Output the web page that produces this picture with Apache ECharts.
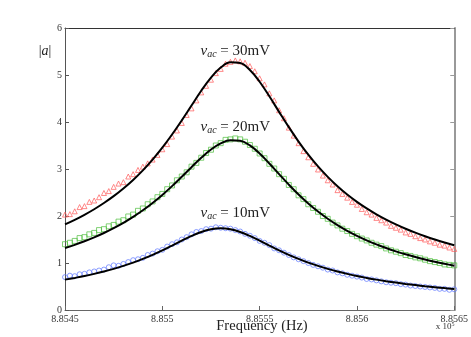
<!DOCTYPE html>
<html>
<head>
<meta charset="utf-8">
<script src="https://cdn.jsdelivr.net/npm/echarts@6/dist/echarts.min.js"></script>
<style>html,body{margin:0;padding:0;background:#fff}#c{width:471px;height:337px}</style>
</head>
<body>
<div id="c"></div>
<script>
// Frequency (Hz) sample points for the measured data
var freqData = [885450,885452.5,885455,885457.5,885460,885462.5,885465,885467.5,885470,885472.5,885475,885477.5,885480,885482.5,885485,885487.5,885490,885492.5,885495,885497.5,885500,885502.5,885505,885507.5,885510,885512.5,885515,885517.5,885520,885522.5,885525,885527.5,885530,885532.5,885535,885537.5,885540,885542.5,885545,885547.5,885550,885552.5,885555,885557.5,885560,885562.5,885565,885567.5,885570,885572.5,885575,885577.5,885580,885582.5,885585,885587.5,885590,885592.5,885595,885597.5,885600,885602.5,885605,885607.5,885610,885612.5,885615,885617.5,885620,885622.5,885625,885627.5,885630,885632.5,885635,885637.5,885640,885642.5,885645,885647.5,885650];
// Frequency (Hz) sample points for the fitted curves
var freqFit = [885450,885455,885460,885465,885470,885475,885480,885485,885490,885495,885500,885505,885510,885515,885520,885525,885530,885535,885540,885545,885550,885555,885560,885565,885570,885575,885580,885585,885590,885595,885600,885605,885610,885615,885620,885625,885630,885635,885640,885645,885650];

// measured |a|, v_ac = 30 mV (red triangles)
var data30 = [2.03,2.04,2.10,2.19,2.21,2.30,2.33,2.40,2.49,2.53,2.62,2.69,2.72,2.84,2.89,2.98,3.05,3.12,3.20,3.30,3.42,3.53,3.69,3.82,3.98,4.15,4.29,4.46,4.63,4.77,4.90,5.04,5.13,5.24,5.28,5.31,5.29,5.26,5.19,5.08,4.93,4.80,4.61,4.46,4.25,4.08,3.88,3.71,3.55,3.38,3.25,3.11,2.99,2.86,2.76,2.67,2.55,2.47,2.39,2.30,2.24,2.15,2.08,2.03,1.96,1.91,1.86,1.79,1.75,1.71,1.65,1.62,1.57,1.53,1.50,1.46,1.43,1.39,1.37,1.33,1.30];
// measured |a|, v_ac = 20 mV (green squares)
var data20 = [1.40,1.43,1.47,1.53,1.55,1.61,1.64,1.70,1.72,1.78,1.81,1.88,1.91,1.99,2.03,2.11,2.16,2.25,2.31,2.40,2.47,2.57,2.65,2.76,2.84,2.93,3.05,3.13,3.24,3.34,3.41,3.50,3.55,3.62,3.63,3.65,3.63,3.58,3.51,3.43,3.33,3.23,3.11,3.01,2.89,2.79,2.66,2.57,2.44,2.36,2.25,2.17,2.09,2.00,1.94,1.86,1.80,1.73,1.68,1.62,1.57,1.52,1.48,1.43,1.39,1.36,1.31,1.27,1.24,1.21,1.17,1.15,1.12,1.10,1.07,1.04,1.02,1.00,0.97,0.96,0.95];
// measured |a|, v_ac = 10 mV (blue circles)
var data10 = [0.70,0.73,0.72,0.76,0.77,0.80,0.82,0.84,0.86,0.91,0.95,0.94,0.98,1.02,1.06,1.08,1.11,1.17,1.20,1.25,1.28,1.35,1.40,1.44,1.50,1.55,1.61,1.66,1.68,1.72,1.73,1.76,1.75,1.74,1.73,1.70,1.67,1.62,1.58,1.53,1.47,1.43,1.38,1.31,1.27,1.22,1.17,1.12,1.08,1.04,1.00,0.96,0.93,0.90,0.86,0.84,0.80,0.78,0.75,0.73,0.71,0.69,0.66,0.65,0.63,0.61,0.59,0.58,0.57,0.55,0.54,0.52,0.51,0.50,0.49,0.48,0.47,0.45,0.45,0.43,0.44];

// fitted curves (black)
var fit30 = [1.823,1.919,2.026,2.144,2.276,2.422,2.585,2.767,2.971,3.200,3.454,3.734,4.035,4.350,4.664,4.944,5.158,5.270,5.255,5.107,4.857,4.547,4.216,3.890,3.584,3.305,3.055,2.832,2.634,2.457,2.301,2.161,2.036,1.923,1.821,1.729,1.645,1.569,1.499,1.435,1.376];
var fit20 = [1.318,1.386,1.462,1.546,1.638,1.741,1.854,1.981,2.122,2.278,2.449,2.636,2.835,3.039,3.238,3.414,3.546,3.614,3.603,3.501,3.330,3.117,2.890,2.667,2.457,2.266,2.094,1.942,1.806,1.685,1.578,1.482,1.396,1.318,1.248,1.185,1.128,1.076,1.028,0.984,0.943];
var fit10 = [0.646,0.683,0.723,0.769,0.819,0.875,0.938,1.008,1.087,1.174,1.269,1.371,1.475,1.576,1.661,1.719,1.740,1.719,1.661,1.576,1.475,1.371,1.269,1.174,1.087,1.008,0.938,0.875,0.819,0.769,0.723,0.683,0.646,0.613,0.583,0.555,0.530,0.507,0.486,0.466,0.448];

// tick labels
var xTickValues = [885450,885500,885550,885600,885650];
var xTickLabels = ['8.8545','8.855','8.8555','8.856','8.8565'];
var yTickLabels = ['0','1','2','3','4','5','6'];

// annotation labels and anchor points (data coords)
var annoText = ['30mV','20mV','10mV'];
var annoX = [885537.5,885537.5,885537.5];
var annoY = [5.51,3.89,2.06];

function pairs(xs, ys){ return xs.map(function(x,i){ return [x, ys[i]]; }); }

var serif = 'Liberation Serif';
var chart = echarts.init(document.getElementById('c'), null, {renderer:'canvas'});

function scatter(name, d, sym, col){
  return {type:'scatter', name:name, data:pairs(freqData,d), symbol:sym, symbolSize:5,
    itemStyle:{color:'rgba(0,0,0,0)', borderColor:col, borderWidth:0.9}, z:2, silent:true};
}
function fitLine(d){
  return {type:'line', data:pairs(freqFit,d), showSymbol:false, smooth:0.4,
    lineStyle:{color:'#000', width:2}, z:5, silent:true};
}

var option = {
  animation:false,
  grid:{left:65, right:16, top:28, bottom:27},
  xAxis:[{
    type:'value', min:885450, max:885650, interval:50,
    axisLine:{onZero:false, lineStyle:{color:'#666', width:1}},
    axisTick:{inside:true, length:4, lineStyle:{color:'#666'}},
    axisLabel:{margin:4, color:'#333', fontFamily:serif, fontSize:10,
      formatter:function(v){ var i = xTickValues.indexOf(Math.round(v)); return i>=0 ? xTickLabels[i] : ''; }},
    splitLine:{show:false}
  },{
    type:'value', position:'top', min:885450, max:885650, interval:50,
    axisLine:{onZero:false, lineStyle:{color:'#333', width:1}},
    axisTick:{show:false}, axisLabel:{show:false}, splitLine:{show:false}
  }],
  yAxis:[{
    type:'value', min:0, max:6, interval:1,
    axisLine:{onZero:false, lineStyle:{color:'#555', width:1}},
    axisTick:{inside:true, length:4, lineStyle:{color:'#555'}},
    axisLabel:{margin:3, color:'#333', fontFamily:serif, fontSize:10,
      formatter:function(v){ return yTickLabels[Math.round(v)]; }},
    splitLine:{show:false}
  },{
    type:'value', position:'right', min:0, max:6, interval:1,
    axisLine:{onZero:false, lineStyle:{color:'#999', width:2}},
    axisTick:{inside:true, length:4, lineStyle:{color:'#999'}},
    axisLabel:{show:false}, splitLine:{show:false}
  }],
  series:[
    scatter('30mV', data30, 'triangle', '#ff5a5a'),
    scatter('20mV', data20, 'rect', '#4fbf3f'),
    scatter('10mV', data10, 'circle', '#5f78ff'),
    fitLine(fit30), fitLine(fit20), fitLine(fit10)
  ]
};
chart.setOption(option);

var g = [];
for (var i=0;i<annoText.length;i++){
  var p = chart.convertToPixel({gridIndex:0}, [annoX[i], annoY[i]]);
  g.push({type:'text', x:p[0], y:p[1], z:10,
    style:{text:'{v|v}{s|ac}{n| = '+annoText[i]+'}', align:'center', verticalAlign:'middle',
      rich:{
        v:{fontFamily:serif, fontStyle:'italic', fontSize:15, fill:'#222'},
        s:{fontFamily:serif, fontStyle:'italic', fontSize:10, fill:'#222', padding:[6,0,0,0]},
        n:{fontFamily:serif, fontSize:15, fill:'#222'}
      }}});
}
g.push({type:'text', x:262, y:326, style:{text:'Frequency (Hz)', align:'center', verticalAlign:'middle', fontFamily:serif, fontSize:14.5, fill:'#222'}});
g.push({type:'text', x:445, y:327, style:{text:'{a|x 10}{b|5}', align:'center', verticalAlign:'middle',
  rich:{a:{fontFamily:serif, fontSize:9, fill:'#333'}, b:{fontFamily:serif, fontSize:6, fill:'#333', padding:[0,0,6,0]}}}});
g.push({type:'text', x:45, y:51, style:{text:'{b||}{a|a}{b||}', align:'center', verticalAlign:'middle',
  rich:{a:{fontFamily:serif, fontStyle:'italic', fontSize:14, fill:'#222'}, b:{fontFamily:serif, fontSize:14, fill:'#222'}}}});
chart.setOption({graphic:g});
</script>
</body>
</html>
